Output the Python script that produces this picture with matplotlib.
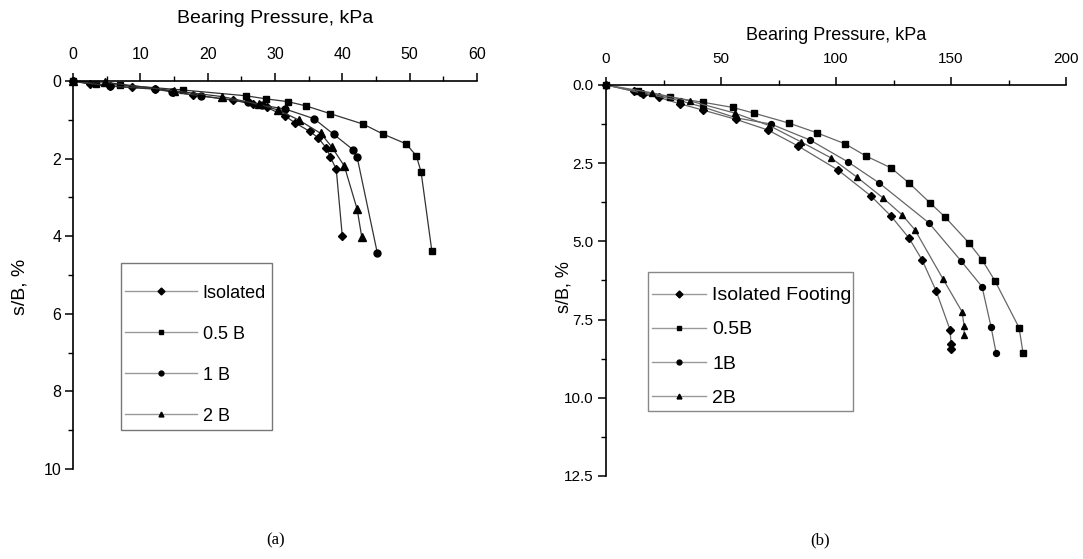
import matplotlib
matplotlib.use("Agg")
import matplotlib.pyplot as plt
from matplotlib.lines import Line2D
from matplotlib.patches import Rectangle
from matplotlib.ticker import MultipleLocator, FormatStrFormatter

plt.rcParams['font.family'] = ['Liberation Sans', 'DejaVu Sans']

# ---- panel (a) data: bearing pressure (kPa) vs s/B (%)
a_iso_x = [0, 2.5, 5.5, 8.8, 12.2, 14.9, 17.8, 23.8, 26.7, 28.8, 31.5, 33.0, 35.2, 36.4, 37.6, 38.2, 39.1, 40.0]
a_iso_y = [0, 0.08, 0.13, 0.16, 0.20, 0.27, 0.36, 0.49, 0.60, 0.68, 0.90, 1.08, 1.30, 1.46, 1.72, 1.95, 2.27, 4.00]
a_05b_x = [0, 3.4, 7.0, 16.3, 25.7, 28.7, 31.9, 34.6, 38.2, 43.1, 46.1, 49.5, 51.0, 51.7, 53.3]
a_05b_y = [0, 0.08, 0.10, 0.23, 0.38, 0.46, 0.53, 0.64, 0.84, 1.11, 1.37, 1.62, 1.93, 2.34, 4.38]
a_1b_x = [0, 5.5, 12.2, 14.7, 19.0, 26.0, 28.0, 31.5, 35.8, 38.7, 41.6, 42.2, 45.2]
a_1b_y = [0, 0.13, 0.21, 0.28, 0.38, 0.55, 0.62, 0.72, 0.97, 1.37, 1.77, 1.96, 4.43]
a_2b_x = [0, 4.7, 15.0, 22.1, 27.7, 30.5, 33.5, 36.8, 38.4, 40.3, 42.2, 42.9]
a_2b_y = [0, 0.03, 0.25, 0.40, 0.60, 0.75, 1.00, 1.35, 1.69, 2.19, 3.30, 4.03]

# ---- panel (b) data
b_iso_x = [0, 12, 16, 23, 32, 42, 56.5, 70.4, 83.5, 100.9, 115.2, 123.9, 131.7, 137.4, 143.5, 149.6, 150.0, 150.2]
b_iso_y = [0, 0.20, 0.30, 0.40, 0.60, 0.80, 1.10, 1.44, 1.95, 2.72, 3.55, 4.19, 4.89, 5.59, 6.58, 7.83, 8.27, 8.43]
b_05b_x = [0, 14, 28, 42, 55.2, 64.3, 79.6, 91.7, 103.9, 113.0, 123.9, 131.7, 140.9, 147.4, 157.8, 163.5, 169.1, 179.6, 181.3]
b_05b_y = [0, 0.20, 0.39, 0.55, 0.72, 0.90, 1.22, 1.53, 1.88, 2.27, 2.65, 3.13, 3.77, 4.22, 5.05, 5.59, 6.26, 7.76, 8.56]
b_1b_x = [0, 15, 32, 42, 56.5, 71.7, 88.7, 105.2, 118.7, 140.4, 154.3, 163.5, 167.4, 169.6]
b_1b_y = [0, 0.25, 0.50, 0.70, 1.05, 1.25, 1.76, 2.46, 3.13, 4.41, 5.62, 6.45, 7.73, 8.56]
b_2b_x = [0, 20, 36.5, 56, 71, 84.8, 97.8, 109.0, 120.4, 128.7, 134.3, 146.5, 154.8, 155.7, 155.7]
b_2b_y = [0, 0.25, 0.51, 0.90, 1.30, 1.82, 2.33, 2.94, 3.61, 4.15, 4.63, 6.20, 7.25, 7.70, 7.99]

labels_a = ["Isolated", "0.5 B", "1 B", "2 B"]
labels_b = ["Isolated Footing", "0.5B", "1B", "2B"]
markers = ["D", "s", "o", "^"]
msizes = [4.5, 4.5, 5, 5.5]


def style_axes(ax, xmax, xmajor, ymax, ymajor, tickfs, ypad):
    ax.xaxis.tick_top()
    ax.xaxis.set_label_position("top")
    for s in ["right", "bottom"]:
        ax.spines[s].set_visible(False)
    for s in ["left", "top"]:
        ax.spines[s].set_linewidth(1.2)
    ax.set_xlim(0, xmax)
    ax.set_ylim(ymax, 0)
    ax.xaxis.set_major_locator(MultipleLocator(xmajor))
    ax.xaxis.set_minor_locator(MultipleLocator(xmajor / 2))
    ax.yaxis.set_major_locator(MultipleLocator(ymajor))
    ax.yaxis.set_minor_locator(MultipleLocator(ymajor / 2))
    ax.tick_params(which="major", direction="out", length=6, width=1.1, labelsize=tickfs)
    ax.tick_params(axis="x", which="major", pad=8)
    ax.tick_params(axis="y", which="major", pad=ypad)
    ax.tick_params(which="minor", direction="out", length=3.5, width=1.0)


def draw(ax, xs, ys, lc, scale):
    for x, y, m, ms in zip(xs, ys, markers, msizes):
        ax.plot(x, y, color=lc, lw=0.9, marker=m, ms=ms * scale,
                mfc="black", mec="black", clip_on=False)


def add_legend(ax, labels, box, anchor, fs, hl, spacing, ec):
    # frame drawn separately so the padding can differ per side
    x0, y0, x1, y1 = box
    ax.add_patch(Rectangle((x0, y0), x1 - x0, y1 - y0, transform=ax.transAxes,
                           fill=False, ec=ec, lw=1.0, clip_on=False))
    handles = [Line2D([], [], color="#999999", lw=1.0, marker=m, ms=3.5, mfc="black", mec="black", label=l)
               for m, l in zip(markers, labels)]
    ax.legend(handles=handles, loc="upper left", bbox_to_anchor=anchor, borderaxespad=0,
              borderpad=0, fontsize=fs, handlelength=hl, labelspacing=spacing,
              handletextpad=0.3, frameon=False)


fig = plt.figure(figsize=(10.83, 5.59), dpi=100)

# (a)
ax1 = fig.add_axes([0.0674, 0.161, 0.373, 0.694])
style_axes(ax1, 60, 10, 10, 2, 11.5, 2.5)
draw(ax1, [a_iso_x, a_05b_x, a_1b_x, a_2b_x], [a_iso_y, a_05b_y, a_1b_y, a_2b_y], "#333333", 1.0)
ax1.set_xlabel("Bearing Pressure, kPa", fontsize=14, labelpad=17)
ax1.set_ylabel("s/B, %", fontsize=14)
ax1.yaxis.set_label_coords(-0.111, 0.469)
add_legend(ax1, labels_a, (0.119, 0.1005, 0.4926, 0.531), (0.129, 0.475), 13, 4.0, 1.33, "#777777")

# (b)
ax2 = fig.add_axes([0.5596, 0.1485, 0.4247, 0.6995])
style_axes(ax2, 200, 50, 12.5, 2.5, 11, 3)
ax2.yaxis.set_major_formatter(FormatStrFormatter("%.1f"))
draw(ax2, [b_iso_x, b_05b_x, b_1b_x, b_2b_x], [b_iso_y, b_05b_y, b_1b_y, b_2b_y], "#666666", 0.85)
ax2.set_xlabel("Bearing Pressure, kPa", fontsize=13, labelpad=8)
ax2.set_ylabel("s/B, %", fontsize=13)
ax2.yaxis.set_label_coords(-0.072, 0.483)
add_legend(ax2, labels_b, (0.0913, 0.166, 0.537, 0.5217), (0.1, 0.484), 14, 2.8, 0.85, "#888888")

fig.text(0.254, 0.034, "(a)", fontsize=12, family="Liberation Serif", ha="center", va="center")
fig.text(0.757, 0.034, "(b)", fontsize=12, family="Liberation Serif", ha="center", va="center")

fig.savefig("out.png", dpi=100)
